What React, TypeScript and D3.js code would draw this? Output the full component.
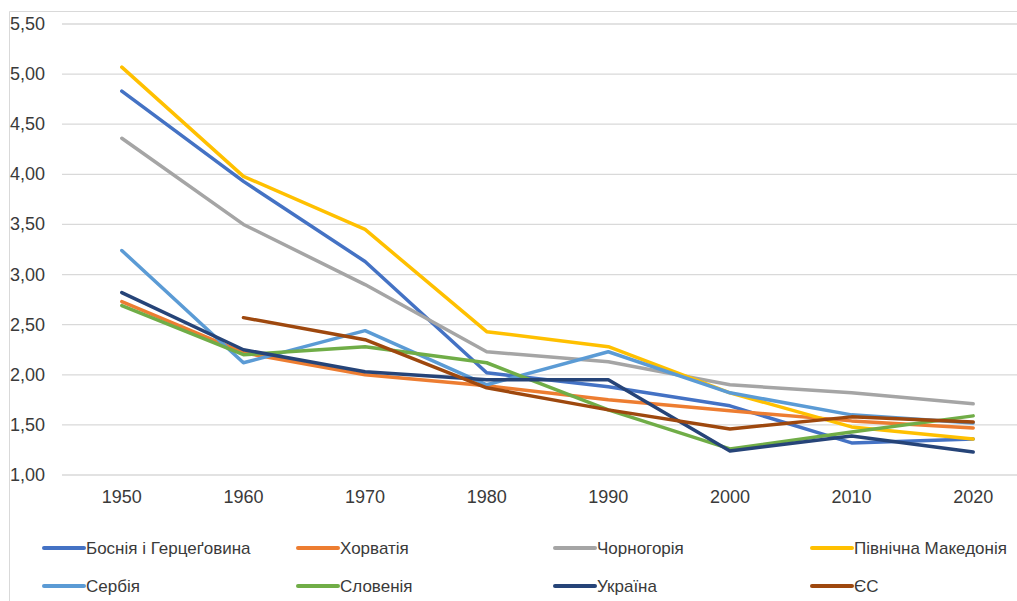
import React from "react";
import * as d3 from "d3";

const years = ["1950", "1960", "1970", "1980", "1990", "2000", "2010", "2020"];
const yTicks = [1.0, 1.5, 2.0, 2.5, 3.0, 3.5, 4.0, 4.5, 5.0, 5.5];

const bosnia = [4.83, 3.93, 3.13, 2.02, 1.88, 1.69, 1.32, 1.36];
const croatia = [2.73, 2.22, 2.0, 1.89, 1.75, 1.64, 1.54, 1.47];
const montenegro = [4.36, 3.5, 2.9, 2.23, 2.13, 1.9, 1.82, 1.71];
const northMacedonia = [5.07, 3.98, 3.45, 2.43, 2.28, 1.82, 1.48, 1.36];
const serbia = [3.24, 2.12, 2.44, 1.9, 2.23, 1.82, 1.6, 1.52];
const slovenia = [2.69, 2.2, 2.28, 2.12, 1.65, 1.26, 1.43, 1.59];
const ukraine = [2.82, 2.25, 2.03, 1.95, 1.95, 1.24, 1.39, 1.23];
const eu: (number | null)[] = [null, 2.57, 2.35, 1.87, 1.65, 1.46, 1.58, 1.53];

const seriesNames = [
  "Боснія і Герцеґовина",
  "Хорватія",
  "Чорногорія",
  "Північна Македонія",
  "Сербія",
  "Словенія",
  "Україна",
  "ЄС",
];
const seriesValues: (number | null)[][] = [bosnia, croatia, montenegro, northMacedonia, serbia, slovenia, ukraine, eu];
const seriesColors = ["#4472C4", "#ED7D31", "#A5A5A5", "#FFC000", "#5B9BD5", "#70AD47", "#264478", "#9E480E"];

const W = 1017;
const H = 601;

export default function App() {
  const x = d3.scalePoint<string>().domain(years).range([61, 1034]).padding(0.5);
  const y = d3.scaleLinear().domain([1, 5.5]).range([475, 24]);
  const line = d3
    .line<number | null>()
    .defined((d) => d !== null)
    .x((_, i) => x(years[i]) as number)
    .y((d) => y(d as number));

  const fmt = (v: number) => v.toFixed(2).replace(".", ",");
  const legendCols = [44, 298, 555, 812];
  const legendRows = [548, 586];

  return (
    <svg
      width={W}
      height={H}
      style={{ position: "absolute", left: 0, top: 0, background: "#fff" }}
      fontFamily="'Liberation Sans', Arial, sans-serif"
    >
      <rect x={0} y={0} width={W} height={H} fill="#fff" />
      {/* chart frame */}
      <line x1={9.5} y1={11.5} x2={W} y2={11.5} stroke="#d9d9d9" strokeWidth={1} />
      <line x1={9.5} y1={11.5} x2={9.5} y2={H} stroke="#d9d9d9" strokeWidth={1} />
      {/* gridlines */}
      {yTicks.map((t) => (
        <line key={t} x1={62} x2={W} y1={y(t)} y2={y(t)} stroke="#d9d9d9" strokeWidth={1.3} />
      ))}
      {/* y labels */}
      {yTicks.map((t) => (
        <text key={"l" + t} x={45} y={y(t) + 6} textAnchor="end" fontSize={18} fill="#3a3a3a">
          {fmt(t)}
        </text>
      ))}
      {/* x labels */}
      {years.map((yr) => (
        <text key={yr} x={x(yr)} y={503} textAnchor="middle" fontSize={18} fill="#3a3a3a">
          {yr}
        </text>
      ))}
      {/* series */}
      {seriesValues.map((vals, i) => (
        <path
          key={seriesNames[i]}
          d={line(vals) || ""}
          fill="none"
          stroke={seriesColors[i]}
          strokeWidth={3.5}
          strokeLinejoin="round"
          strokeLinecap="round"
        />
      ))}
      {/* legend */}
      {seriesNames.map((name, i) => {
        const lx = legendCols[i % 4];
        const ly = legendRows[Math.floor(i / 4)];
        return (
          <g key={"lg" + name}>
            <line x1={lx} x2={lx + 40} y1={ly} y2={ly} stroke={seriesColors[i]} strokeWidth={4} strokeLinecap="round" />
            <text x={lx + 42} y={ly + 6} fontSize={17} fill="#3a3a3a">
              {name}
            </text>
          </g>
        );
      })}
    </svg>
  );
}
